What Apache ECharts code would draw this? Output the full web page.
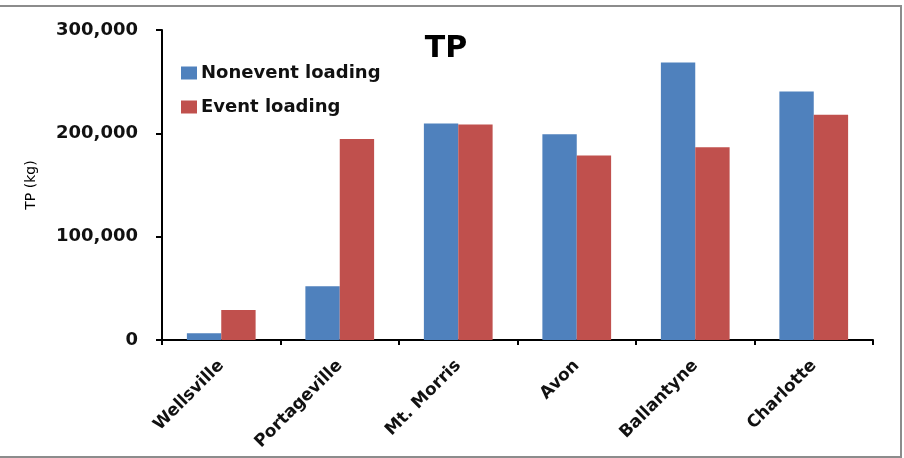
<!DOCTYPE html>
<html>
<head>
<meta charset="utf-8">
<style>
  html, body { margin: 0; padding: 0; background: #ffffff; }
  #chart { width: 904px; height: 458px; }
</style>
<script src="https://cdn.jsdelivr.net/npm/echarts@6/dist/echarts.min.js"></script>
</head>
<body>
<div id="chart"></div>
<script>
// Sampling sites along the river
const sites = ['Wellsville', 'Portageville', 'Mt. Morris', 'Avon', 'Ballantyne', 'Charlotte'];
// Total phosphorus loads (kg)
const nonevent = [6500, 52000, 209500, 199000, 268500, 240500];
const eventLoad = [29000, 194500, 208500, 178500, 186500, 218000];

const FONT = '"DejaVu Sans", sans-serif';
const chart = echarts.init(document.getElementById('chart'), null, { renderer: 'canvas' });

chart.setOption({
  backgroundColor: '#ffffff',
  animation: false,
  title: {
    text: 'TP',
    left: 441,
    top: 29,
    textAlign: 'center',
    textStyle: { fontFamily: FONT, fontWeight: 'bold', fontSize: 30, color: '#000' }
  },
  legend: {
    orient: 'vertical',
    left: 176,
    top: 59,
    itemGap: 16,
    itemWidth: 16,
    itemHeight: 13,
    icon: 'rect',
    textStyle: { fontFamily: FONT, fontWeight: 'bold', fontSize: 18, color: '#111', padding: [0, 0, 0, -1] },
    data: ['Nonevent loading', 'Event loading']
  },
  grid: { left: 162, right: 31, top: 30, bottom: 118, containLabel: false },
  xAxis: {
    type: 'category',
    data: sites,
    axisLine: { lineStyle: { color: '#000', width: 2 } },
    axisTick: { show: true, length: 5, lineStyle: { color: '#000', width: 2 }, alignWithLabel: false },
    axisLabel: {
      rotate: 45,
      margin: 23,
      fontFamily: FONT,
      fontWeight: 'bold',
      fontSize: 17,
      color: '#111'
    }
  },
  yAxis: {
    type: 'value',
    min: 0,
    max: 300000,
    interval: 100000,
    name: 'TP (kg)',
    nameLocation: 'middle',
    nameGap: 124,
    nameRotate: 90,
    nameTextStyle: { fontFamily: FONT, fontWeight: 'normal', fontSize: 14, color: '#000' },
    axisLine: { show: true, lineStyle: { color: '#000', width: 2 } },
    axisTick: { show: true, inside: false, length: 6, lineStyle: { color: '#000', width: 2 } },
    splitLine: { show: false },
    axisLabel: {
      margin: 24,
      fontFamily: FONT,
      fontWeight: 'bold',
      fontSize: 18,
      color: '#111',
      formatter: v => v.toLocaleString('en-US')
    }
  },
  series: [
    {
      name: 'Nonevent loading',
      type: 'bar',
      data: nonevent,
      barGap: '0%',
      barCategoryGap: '42%',
      itemStyle: { color: '#4f81bd' }
    },
    {
      name: 'Event loading',
      type: 'bar',
      data: eventLoad,
      itemStyle: { color: '#c0504d' }
    }
  ],
  graphic: [
    {
      type: 'rect',
      shape: { x: -3, y: 6, width: 904, height: 451 },
      style: { fill: null, stroke: '#8c8c8c', lineWidth: 2 },
      silent: true
    }
  ]
});
</script>
</body>
</html>
